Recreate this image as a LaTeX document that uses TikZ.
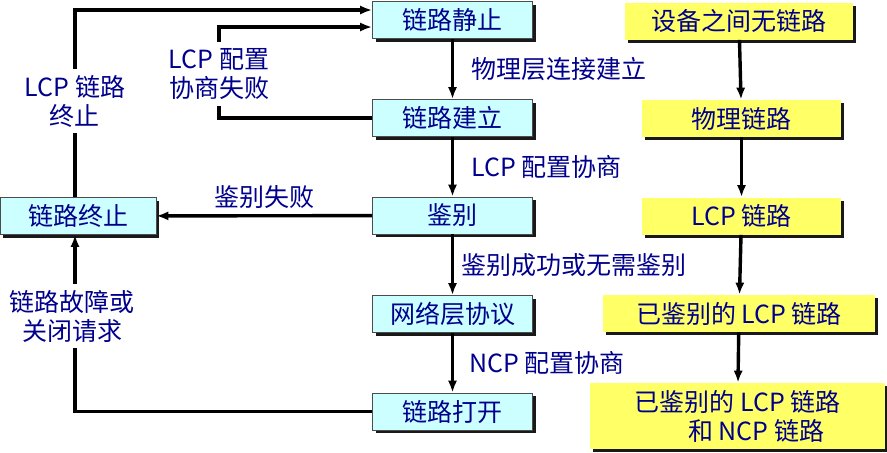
\documentclass[tikz,border=0pt]{standalone}
\usepackage{fontspec}
\setmainfont{Noto Sans CJK SC}
\usetikzlibrary{arrows.meta,shadows,calc}
\definecolor{txtblue}{RGB}{0,0,140}
\definecolor{boxcyan}{RGB}{204,255,255}
\definecolor{boxyellow}{RGB}{255,255,102}
\tikzset{
  box/.style={draw=black!70, thin, fill=boxcyan, text=txtblue, minimum width=80pt, minimum height=18.5pt, inner sep=0pt,
    drop shadow={shadow xshift=1.6pt, shadow yshift=-1.6pt, fill=black, opacity=0.9}},
  ybox/.style={fill=boxyellow, text=txtblue, minimum height=18.5pt, inner sep=0pt, align=center,
    drop shadow={shadow xshift=1.6pt, shadow yshift=-1.6pt, fill=black, opacity=0.9}},
  flow/.style={line width=1.7pt, -{Latex[length=6pt,width=4.6pt]}},
  lbl/.style={text=txtblue, align=center, inner sep=0pt},
  gaplbl/.style={lbl, fill=white, inner ysep=3pt}
}
\begin{document}
\begin{tikzpicture}[x=0.5pt, y=-0.5pt, font=\fontsize{12.5pt}{14.5pt}\selectfont]
  \useasboundingbox (0,0) rectangle (887,452);

  % 左侧状态
  \node[box] (quiet)   at (452.5,20)  {链路静止};
  \node[box] (setup)   at (452.5,118) {链路建立};
  \node[box] (auth)    at (452.5,215.5) {鉴别};
  \node[box] (netproto) at (452.5,314) {网络层协议};
  \node[box] (open)    at (452.5,411.5) {链路打开};
  \node[box, minimum width=78pt] (term) at (78,216) {链路终止};

  % 右侧状态
  \node[ybox, minimum width=114pt] (nolink)  at (739,21)    {设备之间无链路};
  \node[ybox, minimum width=99.5pt] (phys)   at (741.5,118.5) {物理链路};
  \node[ybox, minimum width=99.5pt] (lcp)    at (741.5,216) {LCP 链路};
  \node[ybox, minimum width=136pt] (authlcp) at (739,313.5)  {已鉴别的 LCP 链路};
  \node[ybox, minimum width=147.5pt, minimum height=33pt] (ncp) at (737.5,416)
    {已鉴别的 LCP 链路\\\hspace*{1.5em}和 NCP 链路};

  % 中间主流程
  \draw[flow] (quiet) -- (setup)
    node[lbl, midway, anchor=west, xshift=8.5pt] {物理层连接建立};
  \draw[flow] (setup) -- (auth)
    node[lbl, midway, anchor=west, xshift=8.5pt] {LCP 配置协商};
  \draw[flow] (auth) -- (netproto)
    node[lbl, midway, anchor=west, xshift=3.5pt] {鉴别成功或无需鉴别};
  \draw[flow] (netproto) -- (open)
    node[lbl, midway, anchor=west, xshift=7.5pt] {NCP 配置协商};

  % 失败与终止
  \draw[flow] (auth) -- (term)
    node[lbl, midway, above=2.5pt] {鉴别失败};
  \coordinate (cfgturn) at (219,27);
  \coordinate (termturn) at (75,10);
  \draw[flow] (setup.west) -| (cfgturn) -- (cfgturn -| quiet.west);
  \draw[flow] (term.north -| termturn) -- (termturn) -- (termturn -| quiet.west);
  \draw[flow] (open.west) -| (term.south -| termturn);
  \node[gaplbl] (cfgfail) at (219,74) {LCP 配置\\协商失败};
  \node[gaplbl] (lcpend) at (75,101) {LCP 链路\\终止};
  \node[gaplbl] (fault) at (72,316) {链路故障或\\关闭请求};

  % 右侧流程
  \draw[flow] (nolink) -- (phys);
  \draw[flow] (phys) -- (lcp);
  \draw[flow] (lcp) -- (authlcp);
  \draw[flow] (authlcp) -- (ncp);
\end{tikzpicture}
\end{document}
